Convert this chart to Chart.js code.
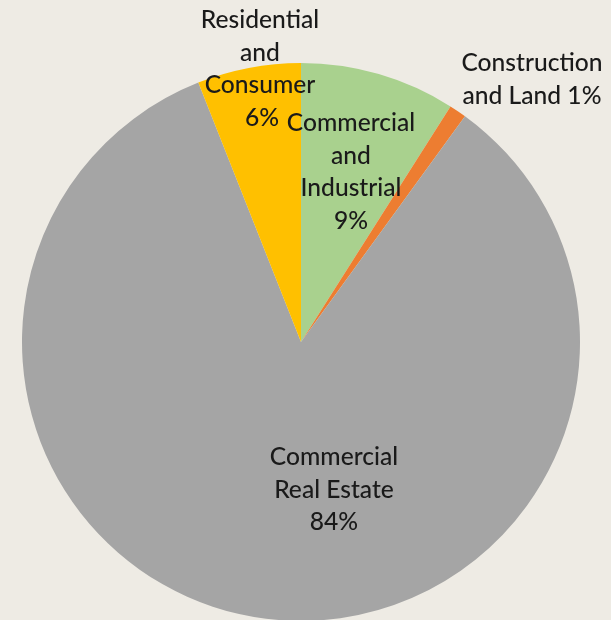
<!DOCTYPE html>
<html>
<head>
<meta charset="utf-8">
<script src="https://cdn.jsdelivr.net/npm/chart.js@4"></script>
<style>
  html, body { margin: 0; padding: 0; background: #eeebe4; overflow: hidden; }
  #wrap { width: 611px; height: 640px; }
</style>
</head>
<body>
<div id="wrap"><canvas id="graficoCartera"></canvas></div>
<script>
// loan portfolio mix
const categorias = ['Commercial and Industrial', 'Construction and Land', 'Commercial Real Estate', 'Residential and Consumer'];
const porcentajes = [9, 1, 84, 6];
const colores = ['#a9d18e', '#ed7d31', '#a5a5a5', '#ffc000'];

// label text per slice, one entry per line
const etiquetas = [
  ['Commercial', 'and', 'Industrial'],
  ['Construction', 'and Land'],
  ['Commercial', 'Real Estate'],
  ['Residential', 'and', 'Consumer']
];

// where each label block sits (center x, first baseline y)
const posEtiquetas = [
  {x: 351, y: 131},
  {x: 532, y: 71},
  {x: 334, y: 465},
  {x: 260, y: 28}
];

const pluginEtiquetas = {
  id: 'etiquetas',
  afterDatasetsDraw(chart) {
    const ctx = chart.ctx;
    ctx.save();
    ctx.font = '500 24.6px Lato, sans-serif';
    ctx.fillStyle = '#1a1a1a';
    ctx.textAlign = 'center';
    ctx.textBaseline = 'alphabetic';
    const lh = 32.5;
    posEtiquetas.forEach((p, i) => {
      const lineas = etiquetas[i].slice();
      const pct = porcentajes[i] + '%';
      if (i === 1) {
        lineas[lineas.length - 1] += ' ' + pct;
      } else {
        lineas.push(pct);
      }
      lineas.forEach((t, j) => {
        let x = p.x;
        // the 6% sits a touch right under "Consumer"
        if (i === 3 && j === 3) x = p.x + 2;
        ctx.fillText(t, x, p.y + j * lh);
      });
    });
    ctx.restore();
  }
};

ctx = document.getElementById('graficoCartera');

new Chart(ctx, {
  type: 'pie',
  data: {
    labels: categorias,
    datasets: [{
      data: porcentajes,
      backgroundColor: colores,
      borderWidth: 0
    }]
  },
  options: {
    responsive: true,
    maintainAspectRatio: false,
    animation: false,
    layout: {
      padding: {top: 63, bottom: 19, left: 0, right: 9}
    },
    plugins: {
      legend: {display: false},
      tooltip: {enabled: false}
    }
  },
  plugins: [pluginEtiquetas]
});
</script>
</body>
</html>
